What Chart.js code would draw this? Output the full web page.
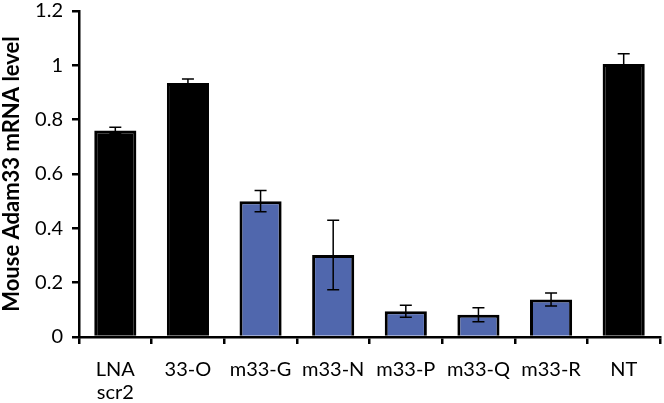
<!DOCTYPE html>
<html>
<head>
<meta charset="utf-8">
<script src="https://cdn.jsdelivr.net/npm/chart.js@4/dist/chart.umd.min.js"></script>
<style>
html,body{margin:0;padding:0;background:#fff;}
#wrap{width:664px;height:403px;position:relative;}
</style>
</head>
<body>
<div id="wrap"><canvas id="c"></canvas></div>
<script>
const categories = [["LNA","scr2"], "33-O", "m33-G", "m33-N", "m33-P", "m33-Q", "m33-R", "NT"];
const values = [0.760, 0.935, 0.500, 0.302, 0.095, 0.082, 0.138, 1.005];
const errors = [0.012, 0.015, 0.039, 0.128, 0.022, 0.026, 0.024, 0.038];
const barColors = ["#000000", "#000000", "#5067AD", "#5067AD", "#5067AD", "#5067AD", "#5067AD", "#000000"];
const yTicks = [0, 0.2, 0.4, 0.6, 0.8, 1, 1.2];
const yTitle = "Mouse Adam33 mRNA level";

const errorBars = {
  id: 'errorBars',
  afterDatasetsDraw(chart) {
    const ctx = chart.ctx;
    const xs = chart.scales.x, ys = chart.scales.y;
    ctx.save();
    ctx.strokeStyle = '#000';
    ctx.lineWidth = 1.5;
    values.forEach((v, i) => {
      const x = xs.getPixelForValue(i);
      const t = ys.getPixelForValue(v + errors[i]);
      const b = ys.getPixelForValue(v - errors[i]);
      const w = 6;
      ctx.beginPath();
      ctx.moveTo(x, t); ctx.lineTo(x, b);
      ctx.moveTo(x - w, t); ctx.lineTo(x + w, t);
      ctx.moveTo(x - w, b); ctx.lineTo(x + w, b);
      ctx.stroke();
    });
    ctx.restore();
  }
};

Chart.defaults.font.family = "Lato, 'Open Sans', sans-serif";
Chart.defaults.color = '#000';

new Chart(document.getElementById('c'), {
  type: 'bar',
  data: {
    labels: categories,
    datasets: [{
      data: values,
      backgroundColor: barColors,
      borderColor: '#000',
      borderWidth: 3,
      categoryPercentage: 1,
      barPercentage: 0.58
    }]
  },
  options: {
    responsive: true,
    maintainAspectRatio: false,
    animation: false,
    layout: { padding: { top: 11, right: 4, left: 0, bottom: 0 } },
    plugins: { legend: { display: false }, tooltip: { enabled: false } },
    scales: {
      x: {
        offset: true,
        grid: { display: true, offset: true, drawOnChartArea: false, drawTicks: true, tickLength: 7, color: '#000', lineWidth: 2.5 },
        border: { display: true, color: '#000', width: 2.5 },
        ticks: { font: { size: 20, lineHeight: 1.15 }, padding: 14, maxRotation: 0, autoSkip: false, color: '#000' },
        afterFit(scale) { scale.height = 66; }
      },
      y: {
        min: 0, max: 1.2,
        afterBuildTicks(scale) { scale.ticks = yTicks.map(v => ({ value: v })); },
        grid: { drawOnChartArea: false, drawTicks: true, tickLength: 7, color: '#000', lineWidth: 2.5 },
        border: { display: true, color: '#000', width: 2.5 },
        ticks: { font: { size: 20 }, padding: 9, color: '#000', callback: v => String(v) },
        title: { display: true, text: yTitle, font: { size: 22, weight: 'bold', lineHeight: 1.1 }, color: '#000', padding: { top: 0, bottom: 0 } },
        afterFit(scale) { scale.width = 79; scale.paddingTop = 0; scale.paddingBottom = 0; }
      }
    }
  },
  plugins: [errorBars]
});
</script>
</body>
</html>
